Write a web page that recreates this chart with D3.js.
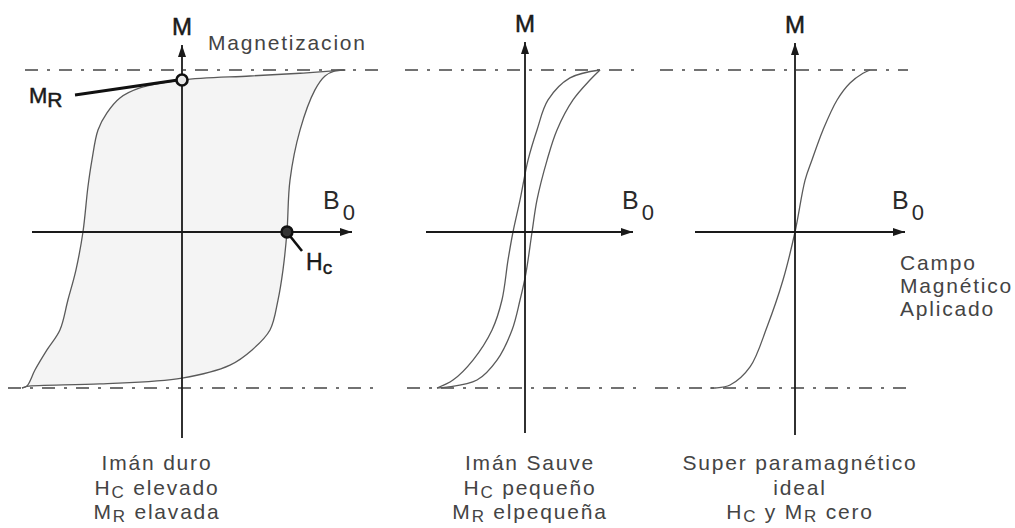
<!DOCTYPE html>
<html>
<head>
<meta charset="utf-8">
<script src="https://cdn.jsdelivr.net/npm/d3@7"></script>
<style>
  body { margin: 0; background: #fff; }
  text { font-family: "Liberation Sans", Arial, sans-serif; }
  .sym { fill: #1a1a1a; }
  .cap { fill: #444; letter-spacing: 1.8px; font-size: 21px; }
</style>
</head>
<body>
<div id="viz"></div>
<script>
// [B0, M]; M scaled to saturation (+-1), B0 in arbitrary field units
const hardDown = [[10.2, 1], [9.44, 0.994], [7.38, 0.98], [4.25, 0.963], [0, 0.938], [-2.63, 0.889],
  [-3.88, 0.827], [-4.69, 0.735], [-5.25, 0.63], [-5.63, 0.444], [-5.88, 0.278], [-6.19, 0],
  [-6.63, -0.244], [-7.13, -0.436], [-7.63, -0.628], [-8.44, -0.756], [-9.19, -0.885], [-9.69, -0.987], [-10, -1]];
const hardUp = [[-10, -1], [-9.69, -0.99], [-5.13, -0.974], [0, -0.936], [3.0, -0.853], [4.38, -0.756],
  [5.5, -0.628], [6.0, -0.436], [6.31, -0.244], [6.56, 0], [6.75, 0.32], [7.38, 0.63], [8.31, 0.877],
  [8.94, 0.963], [9.56, 0.994], [10.2, 1]];

const softDown = [[4.69, 1], [2.81, 0.951], [1.44, 0.815], [0.75, 0.63], [0.19, 0.444], [-0.31, 0.198],
  [-0.75, 0], [-1.06, -0.179], [-1.44, -0.436], [-2.06, -0.628], [-3.25, -0.821], [-4.5, -0.949], [-5.5, -1]];
const softUp = [[-5.5, -1], [-4.88, -0.995], [-3.0, -0.949], [-1.75, -0.821], [-0.81, -0.628], [-0.31, -0.436],
  [0.06, -0.263], [0.44, 0], [0.75, 0.198], [1.38, 0.444], [2.0, 0.63], [3.0, 0.815], [4.06, 0.938], [4.69, 1]];

const superCurve = [[-5.3, -1], [-5, -1.0], [-4.06, -0.981], [-2.81, -0.865], [-1.75, -0.609], [-0.75, -0.308],
  [0, 0], [0.63, 0.32], [1.06, 0.444], [1.75, 0.63], [2.63, 0.815], [3.44, 0.92], [4.25, 0.98], [4.69, 1]];

const remanence = [0, 0.938];   // M_R on the hard loop
const coercive = [6.56, 0];     // H_C on the hard loop

const captions = [
  [[["Imán duro"]], [["H"], ["C", 1], [" elevado"]], [["M"], ["R", 1], [" elavada"]]],
  [[["Imán Sauve"]], [["H"], ["C", 1], [" pequeño"]], [["M"], ["R", 1], [" elpequeña"]]],
  [[["Super paramagnético"]], [["ideal"]], [["H"], ["C", 1], [" y M"], ["R", 1], [" cero"]]]
];
const fieldNote = ["Campo", "Magnético", "Aplicado"];

const W = 1015, H = 528;
const svg = d3.select("#viz").append("svg").attr("width", W).attr("height", H);

svg.append("defs").append("marker")
    .attr("id", "arrow")
    .attr("viewBox", "0 0 12 8")
    .attr("refX", 12).attr("refY", 4)
    .attr("markerWidth", 12).attr("markerHeight", 8)
    .attr("markerUnits", "userSpaceOnUse")
    .attr("orient", "auto")
  .append("path")
    .attr("d", "M0,0L12,4L0,8Z")
    .attr("fill", "#1a1a1a");

const y = d3.scaleLinear().domain([-1, 0, 1]).range([388, 232, 70]);

const panels = [
  {cx: 182, h: [32, 352], v: [438, 45], top: [25, 378], bot: [8, 380], curves: [hardDown, hardUp], cap: 157, bx: 323},
  {cx: 525, h: [426, 633], v: [433, 42], top: [405, 638], bot: [407, 642], curves: [softDown, softUp], cap: 530, bx: 622},
  {cx: 795, h: [695, 905], v: [435, 43], top: [660, 908], bot: [655, 908], curves: [superCurve], cap: 800, bx: 892}
];

panels.forEach((p, i) => {
  const x = d3.scaleLinear().domain([-10, 10]).range([p.cx - 160, p.cx + 160]);
  const line = d3.line().x(d => x(d[0])).y(d => y(d[1])).curve(d3.curveCatmullRom.alpha(0.5));
  const g = svg.append("g");

  if (i === 0) {
    g.append("path")
        .attr("d", line(hardDown.concat(hardUp.slice(1))) + "Z")
        .attr("fill", "#f4f4f4");
  }

  // saturation reference lines
  [[p.top, 1], [p.bot, -1]].forEach(([ext, m]) => {
    g.append("line")
        .attr("x1", ext[0]).attr("x2", ext[1])
        .attr("y1", y(m)).attr("y2", y(m))
        .attr("stroke", "#444")
        .attr("stroke-width", 1.6)
        .attr("stroke-dasharray", "13,9,3,9");
  });

  p.curves.forEach(c => {
    g.append("path")
        .attr("d", line(c))
        .attr("fill", "none")
        .attr("stroke", "#5a5a5a")
        .attr("stroke-width", 1.3);
  });

  // axes
  g.append("line")
      .attr("x1", p.h[0]).attr("x2", p.h[1])
      .attr("y1", y(0)).attr("y2", y(0))
      .attr("stroke", "#1a1a1a").attr("stroke-width", 1.8)
      .attr("marker-end", "url(#arrow)");
  g.append("line")
      .attr("x1", p.cx).attr("x2", p.cx)
      .attr("y1", p.v[0]).attr("y2", p.v[1])
      .attr("stroke", "#1a1a1a").attr("stroke-width", 1.8)
      .attr("marker-end", "url(#arrow)");

  g.append("text")
      .attr("class", "sym")
      .attr("x", p.cx).attr("y", p.v[1] - 10)
      .attr("text-anchor", "middle")
      .style("font-size", "24px")
      .style("stroke", "#1a1a1a").style("stroke-width", 0.5)
      .text("M");

  const b = g.append("text")
      .attr("x", p.bx).attr("y", 209)
      .attr("fill", "#2a2a2a")
      .style("font-size", "25px");
  b.append("tspan").text("B");
  b.append("tspan").attr("dx", 3).attr("dy", 11).style("font-size", "22px").text("0");

  // captions under each panel
  captions[i].forEach((segs, k) => {
    const t = g.append("text")
        .attr("class", "cap")
        .attr("x", p.cap).attr("y", 470 + k * 24.5)
        .attr("text-anchor", "middle");
    segs.forEach(([s, sub], j) => {
      const ts = t.append("tspan").text(s);
      if (sub) ts.attr("dy", 3).style("font-size", "17px");
      else if (j > 0 && segs[j - 1][1]) ts.attr("dy", -3);
    });
  });

  if (i === 0) {
    // M_R marker and label
    g.append("line")
        .attr("x1", 75).attr("y1", 95)
        .attr("x2", x(remanence[0]) - 4).attr("y2", y(remanence[1]))
        .attr("stroke", "#111").attr("stroke-width", 3);
    g.append("circle")
        .attr("cx", x(remanence[0])).attr("cy", y(remanence[1]))
        .attr("r", 5.5)
        .attr("fill", "#e8e8e8").attr("stroke", "#111").attr("stroke-width", 2.6);
    const mr = g.append("text").attr("class", "sym").attr("x", 29).attr("y", 103)
        .style("font-size", "22px").style("stroke", "#1a1a1a").style("stroke-width", 0.5);
    mr.append("tspan").text("M");
    mr.append("tspan").attr("dy", 4).style("font-size", "21px").text("R");

    // H_C marker and label
    g.append("line")
        .attr("x1", x(coercive[0]) + 3).attr("y1", y(coercive[1]) + 4)
        .attr("x2", 302).attr("y2", 251)
        .attr("stroke", "#111").attr("stroke-width", 2.6);
    g.append("circle")
        .attr("cx", x(coercive[0])).attr("cy", y(coercive[1]))
        .attr("r", 5.5)
        .attr("fill", "#333").attr("stroke", "#111").attr("stroke-width", 2.4);
    const hc = g.append("text").attr("class", "sym").attr("x", 306).attr("y", 270)
        .style("font-size", "23px").style("stroke", "#1a1a1a").style("stroke-width", 0.4);
    hc.append("tspan").text("H");
    hc.append("tspan").attr("dy", 4).style("font-size", "19px").text("c");

    g.append("text")
        .attr("class", "cap")
        .attr("x", 208).attr("y", 50)
        .text("Magnetizacion");
  }

  if (i === 2) {
    fieldNote.forEach((s, k) => {
      g.append("text")
          .attr("class", "cap")
          .attr("x", 900).attr("y", 270 + k * 23)
          .text(s);
    });
  }
});
</script>
</body>
</html>
